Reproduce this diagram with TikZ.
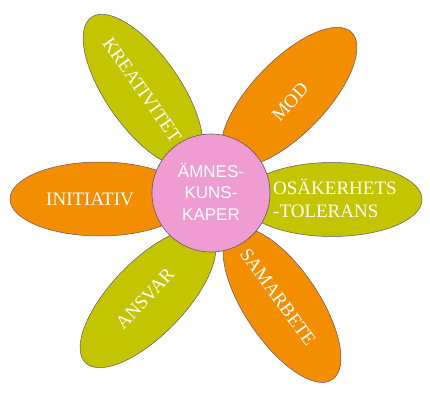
\documentclass[tikz,border=0pt]{standalone}
\usepackage{fontspec}
\setmainfont{Liberation Serif}
\setsansfont{Liberation Sans}
\usetikzlibrary{shapes.geometric}
\definecolor{petalolive}{RGB}{195,197,0}
\definecolor{petalorange}{RGB}{242,142,0}
\definecolor{centerpink}{RGB}{239,156,210}
\definecolor{edgegrey}{RGB}{100,85,100}
\tikzset{
  petal/.style={ellipse, draw=edgegrey, line width=0.5pt, inner sep=0pt,
    minimum width=180pt, minimum height=74pt},
  olivepetal/.style={petal, fill=petalolive},
  orangepetal/.style={petal, fill=petalorange},
  petaltext/.style={text=white, inner sep=0pt, font=\fontsize{19}{23}\selectfont},
  hub/.style={circle, draw=edgegrey, line width=0.6pt, fill=centerpink,
    minimum size=118pt, inner sep=0pt},
  hubtext/.style={text=white, inner sep=0pt, align=center,
    font=\sffamily\fontsize{17}{21.5}\selectfont}
}
\begin{document}
\begin{tikzpicture}[x=1pt,y=-1pt]
\useasboundingbox (0,0) rectangle (430,419);
% petals
\node[olivepetal, rotate=-55] (pk) at (143,91) {};
\node[orangepetal, rotate=46] (pm) at (289,97) {};
\node[orangepetal] (pi) at (100,199) {};
\node[olivepetal] (po) at (332,199.5) {};
\node[olivepetal, rotate=46] (pa) at (148,298) {};
\node[orangepetal, rotate=-56] (ps) at (282,305) {};
% centre
\node[hub] (hub) at (211,193) {};
% labels
\node[petaltext, rotate=-55] (tk) at (142,90) {KREATIVITET};
\node[petaltext, rotate=48] (tm) at (290,102) {MOD};
\node[petaltext] (ti) at (90,199.5) {INITIATIV};
\node[petaltext, align=left, anchor=west] (to) at (273,198.5) {OSÄKERHETS\\-TOLERANS};
\node[petaltext, rotate=47] (ta) at (145,299) {ANSVAR};
\node[petaltext, rotate=-54] (ts) at (278,297) {SAMARBETE};
\node[hubtext] (th) at (211,191.5) {ÄMNES-\\KUNS-\\KAPER};
\end{tikzpicture}
\end{document}
